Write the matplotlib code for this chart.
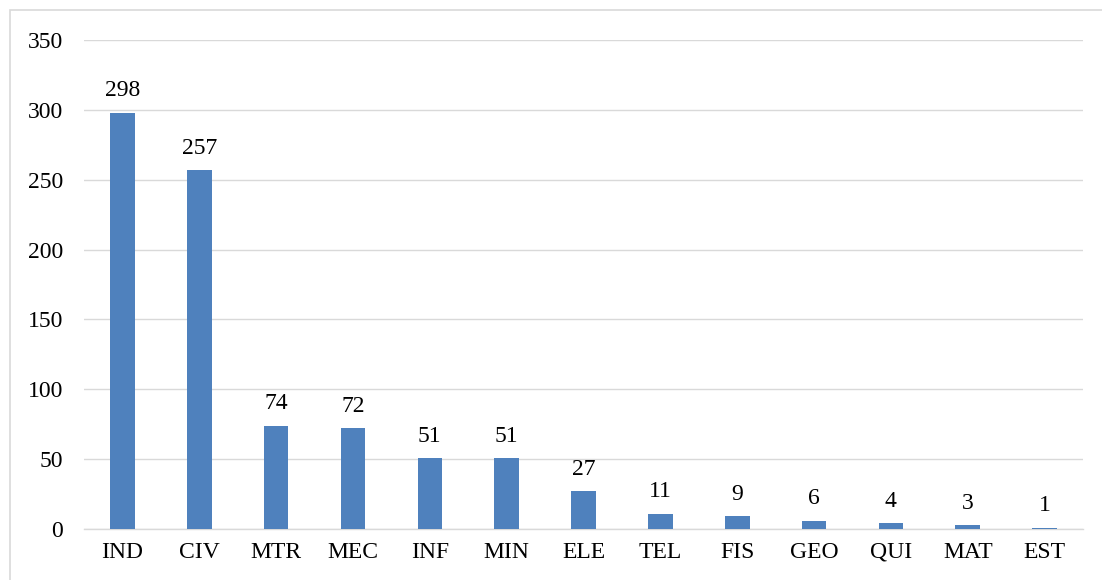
import matplotlib.pyplot as plt
from matplotlib.patches import Rectangle

plt.rcParams["font.family"] = ["Liberation Serif", "DejaVu Serif"]

categories = ["IND", "CIV", "MTR", "MEC", "INF", "MIN", "ELE", "TEL", "FIS", "GEO", "QUI", "MAT", "EST"]
counts = [298, 257, 74, 72, 51, 51, 27, 11, 9, 6, 4, 3, 1]
y_ticks = [0, 50, 100, 150, 200, 250, 300, 350]

fig = plt.figure(figsize=(11.02, 5.8), dpi=100)
ax = fig.add_axes([0.0762, 0.0879, 0.9066, 0.8431])

fig.patches.append(Rectangle((10 / 1102, -0.1), 1.2, 1.1 - 10 / 580,
                             transform=fig.transFigure, fill=False,
                             edgecolor="#D9D9D9", linewidth=1.2))

x = range(len(categories))
ax.bar(x, counts, width=0.32, color="#4F81BD", zorder=3)
for xi, v in zip(x, counts):
    ax.text(xi, v + 8, str(v), ha="center", va="bottom", fontsize=17)

ax.set_xlim(-0.5, len(categories) - 0.5)
ax.set_ylim(0, 350)
ax.set_yticks(y_ticks)
ax.set_xticks(list(x))
ax.set_xticklabels(categories)
ax.tick_params(axis="both", length=0, labelsize=17)
ax.tick_params(axis="x", pad=9)
ax.tick_params(axis="y", pad=15)

ax.grid(axis="y", color="#D9D9D9", linewidth=1.0, zorder=0)
for side in ["top", "right", "left"]:
    ax.spines[side].set_visible(False)
ax.spines["bottom"].set_color("#D9D9D9")
ax.spines["bottom"].set_linewidth(1.0)

fig.savefig("out.png", dpi=100)
